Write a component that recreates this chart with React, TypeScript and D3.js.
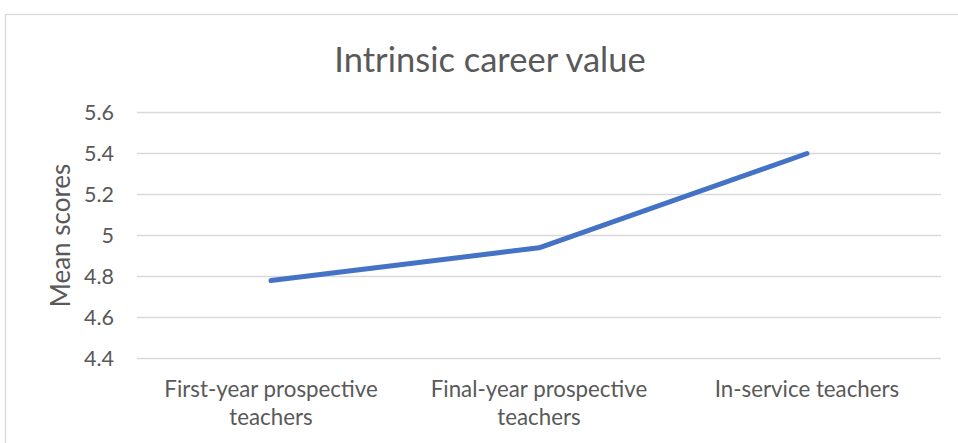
import React from 'react';
import {scaleBand,scaleLinear,line} from 'd3';

const categories=[["First-year prospective","teachers"],["Final-year prospective","teachers"],["In-service teachers"]];
const meanScores=[4.78,4.94,5.40];
const yTicks=[4.4,4.6,4.8,5.0,5.2,5.4,5.6];
const chartTitle="Intrinsic career value";
const yTitle="Mean scores";

const W=958,H=443;
const left=137,right=941,top=112.5,bottom=358.5;
const font="Lato, 'Open Sans', sans-serif";
const grey="#595959";

export default function App(){
  const x=scaleBand<number>().domain(categories.map((_,i)=>i)).range([left,right]);
  const y=scaleLinear().domain([4.4,5.6]).range([bottom,top]);
  const path=line<number>().x((_,i)=>x(i)!+x.bandwidth()/2).y(d=>y(d))(meanScores) || '';

  return (
    <svg width={W} height={H} style={{position:'absolute',left:0,top:0,background:'#fff'}}>
      <rect x={5.5} y={14.5} width={W+10} height={H+10} fill="#fff" stroke="#d9d9d9" strokeWidth={1.3}/>
      <text x={490} y={72} textAnchor="middle" fontFamily={font} fontSize={34.5} fill={grey}>{chartTitle}</text>
      {yTicks.map(t=>(
        <g key={t}>
          <line x1={left} x2={right} y1={y(t)} y2={y(t)} stroke="#d9d9d9" strokeWidth={1.5}/>
          <text x={114} y={y(t)} dy="0.35em" textAnchor="end" fontFamily={font} fontSize={21.5} fill={grey}>{String(+t.toFixed(1))}</text>
        </g>
      ))}
      <text transform={`translate(61,${(top+bottom)/2}) rotate(-90)`} dy="0.35em" textAnchor="middle" fontFamily={font} fontSize={26} fill={grey}>{yTitle}</text>
      {categories.map((c,i)=>(
        <text key={i} textAnchor="middle" fontFamily={font} fontSize={22.3} fill={grey}>
          {c.map((s,j)=>(
            <tspan key={j} x={x(i)!+x.bandwidth()/2} y={397+j*28}>{s}</tspan>
          ))}
        </text>
      ))}
      <path d={path} fill="none" stroke="#4472C4" strokeWidth={5} strokeLinecap="round" strokeLinejoin="round"/>
    </svg>
  );
}
